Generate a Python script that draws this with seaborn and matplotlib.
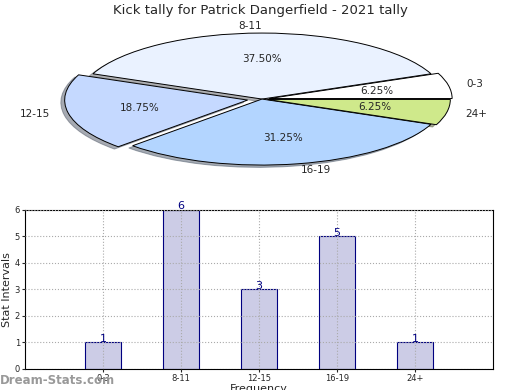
import matplotlib
matplotlib.use("Agg")
import matplotlib.pyplot as plt
import seaborn as sns

# data
categories = ["0-3", "8-11", "12-15", "16-19", "24+"]
counts = [1, 6, 3, 5, 1]
pie_colors = ["#ffffff", "#eaf2ff", "#c5d9ff", "#b3d5ff", "#cfe98b"]
explode = [0.04, 0, 0.08, 0, 0.03]
title = "Kick tally for Patrick Dangerfield - 2021 tally"

sns.set_style("white")
plt.rcParams["font.family"] = ["DejaVu Sans"]

fig = plt.figure(figsize=(5.2, 3.9), dpi=100)

# pie on top, squashed into an ellipse
ax_pie = fig.add_axes([0.0288, 0.526, 0.95, 0.44])
ax_pie.pie(counts, labels=categories, colors=pie_colors, explode=explode,
           autopct="%.2f%%", startangle=0,
           shadow={"ox": -0.015, "oy": -0.025, "shade": 0.6},
           wedgeprops=dict(edgecolor="black", linewidth=0.7),
           textprops=dict(fontsize=7.5))
ax_pie.set_aspect("auto")
ax_pie.set_xlim(-1.35, 1.35)
ax_pie.set_ylim(-1.3, 1.3)
ax_pie.axis("off")
fig.text(0.5, 0.974, title, ha="center", va="center", fontsize=9.5)

# bar chart below
ax = fig.add_axes([0.048, 0.054, 0.9, 0.408])
sns.barplot(x=categories, y=counts, color="#ccccE6", edgecolor="#000080",
            linewidth=0.8, width=0.46, saturation=1, ax=ax)
ax.set_xlim(-1, 5)
ax.set_ylim(0, 6)
ax.set_yticks(range(0, 7))
ax.grid(True, linestyle=":", color="#aaaaaa", linewidth=0.8)
ax.set_axisbelow(False)
for s in ax.spines.values():
    s.set_color("black")
    s.set_linewidth(0.8)
ax.tick_params(labelsize=6, length=2, pad=1.5, direction="out", left=True, bottom=True)
for c in ax.containers:
    ax.bar_label(c, labels=[str(v) for v in counts], padding=-1,
                 color="#000080", fontsize=8)
ax.set_ylabel("Stat Intervals", fontsize=8)
ax.yaxis.set_label_coords(-0.027, 0.5)
ax.set_xlabel("Frequency", fontsize=8, labelpad=1)

fig.text(0.0, 0.025, "Dream-Stats.com", color="#999999", fontsize=8.5,
         fontweight="bold", ha="left", va="center")

fig.savefig("out.png", dpi=100)
